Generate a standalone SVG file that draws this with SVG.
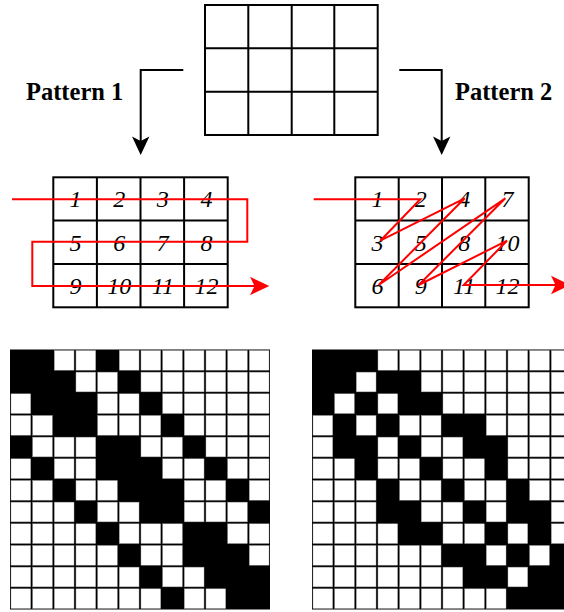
<svg xmlns="http://www.w3.org/2000/svg" xmlns:xlink="http://www.w3.org/1999/xlink" width="564" height="612" viewBox="0 0 564 612">
<style>
.grid{fill:none;stroke:#000;stroke-width:2}
.num{font-family:"Liberation Serif","Times New Roman",serif;font-style:italic;font-size:24px;fill:#000;text-anchor:middle}
.lbl{font-family:"Liberation Serif","Times New Roman",serif;font-weight:bold;font-size:24.5px;fill:#000}
.red{fill:none;stroke:#f00;stroke-width:2;stroke-linejoin:miter}
.redh{fill:#f00}
.blk{fill:none;stroke:#000;stroke-width:2}
.w{fill:#fff;stroke:#9a9a9a;stroke-width:0.02}
</style>
<defs>
<rect id="w" class="w" width="0.91" height="0.91"/>
</defs>
<rect width="564" height="612" fill="#fff"/>

<g id="source-grid">
<rect class="grid" x="205" y="5" width="172.7" height="130"/>
<path class="grid" d="M248.3 5V135M291.7 5V135M334.3 5V135M205 48.3H377.7M205 91.7H377.7"/>
</g>

<g id="label-1"><text class="lbl" x="26" y="99.5">Pattern 1</text></g>
<g id="label-2"><text class="lbl" x="455" y="99.5">Pattern 2</text></g>

<g id="pattern1-grid">
<rect class="grid" x="53.3" y="177.3" width="174.4" height="130"/>
<path class="grid" d="M96.9 177.3V307.3M140.5 177.3V307.3M184.1 177.3V307.3M53.3 220.6H227.7M53.3 264H227.7"/>
<text class="num" x="75.6" y="207">1</text>
<text class="num" x="119.2" y="207">2</text>
<text class="num" x="162.8" y="207">3</text>
<text class="num" x="206.4" y="207">4</text>
<text class="num" x="75.6" y="250.5">5</text>
<text class="num" x="119.2" y="250.5">6</text>
<text class="num" x="162.8" y="250.5">7</text>
<text class="num" x="206.4" y="250.5">8</text>
<text class="num" x="75.6" y="294">9</text>
<text class="num" x="119.2" y="294">10</text>
<text class="num" x="162.8" y="294">11</text>
<text class="num" x="206.4" y="294">12</text>
</g>

<g id="pattern2-grid">
<rect class="grid" x="355.3" y="177.3" width="173.4" height="130"/>
<path class="grid" d="M398.7 177.3V307.3M442 177.3V307.3M485.3 177.3V307.3M355.3 220.6H528.7M355.3 264H528.7"/>
<text class="num" x="377.5" y="207">1</text>
<text class="num" x="420.8" y="207">2</text>
<text class="num" x="464.2" y="207">4</text>
<text class="num" x="507.5" y="207">7</text>
<text class="num" x="377.5" y="250.5">3</text>
<text class="num" x="420.8" y="250.5">5</text>
<text class="num" x="464.2" y="250.5">8</text>
<text class="num" x="507.5" y="250.5">10</text>
<text class="num" x="377.5" y="294">6</text>
<text class="num" x="420.8" y="294">9</text>
<text class="num" x="464.2" y="294">11</text>
<text class="num" x="507.5" y="294">12</text>
</g>

<g id="connectors">
<path class="blk" d="M183.3 70H140.7V142"/>
<path d="M140.7 155L132 136.5L140.7 141L149.4 136.5Z" fill="#000"/>
<path class="blk" d="M399.3 70H441.7V142"/>
<path d="M441.7 155L433 136.5L441.7 141L450.4 136.5Z" fill="#000"/>
<path class="red" d="M12 199.3H247.3V241.7H32.3V286H255"/>
<path class="redh" d="M269.3 286L250 276.8L254.5 286L250 295.2Z"/>
<path class="red" d="M313.7 199.3L420.3 199.3L380.3 240.7L464.7 198.3L378.7 285L505.3 198.3L418.7 285L507 240.7L463.7 285H556"/>
<path class="redh" d="M570.3 285L551 275.8L555.5 285L551 294.2Z"/>
</g>

<g id="matrix-1" transform="translate(10 349.5) scale(21.6667)">
<rect width="12" height="12" fill="#000"/>
<g transform="translate(0.045 0.045)">
<use xlink:href="#w" x="2" y="0"/><use xlink:href="#w" x="3" y="0"/><use xlink:href="#w" x="5" y="0"/><use xlink:href="#w" x="6" y="0"/><use xlink:href="#w" x="7" y="0"/><use xlink:href="#w" x="8" y="0"/><use xlink:href="#w" x="9" y="0"/><use xlink:href="#w" x="10" y="0"/><use xlink:href="#w" x="11" y="0"/>
<use xlink:href="#w" x="3" y="1"/><use xlink:href="#w" x="4" y="1"/><use xlink:href="#w" x="6" y="1"/><use xlink:href="#w" x="7" y="1"/><use xlink:href="#w" x="8" y="1"/><use xlink:href="#w" x="9" y="1"/><use xlink:href="#w" x="10" y="1"/><use xlink:href="#w" x="11" y="1"/>
<use xlink:href="#w" x="0" y="2"/><use xlink:href="#w" x="4" y="2"/><use xlink:href="#w" x="5" y="2"/><use xlink:href="#w" x="7" y="2"/><use xlink:href="#w" x="8" y="2"/><use xlink:href="#w" x="9" y="2"/><use xlink:href="#w" x="10" y="2"/><use xlink:href="#w" x="11" y="2"/>
<use xlink:href="#w" x="0" y="3"/><use xlink:href="#w" x="1" y="3"/><use xlink:href="#w" x="4" y="3"/><use xlink:href="#w" x="5" y="3"/><use xlink:href="#w" x="6" y="3"/><use xlink:href="#w" x="8" y="3"/><use xlink:href="#w" x="9" y="3"/><use xlink:href="#w" x="10" y="3"/><use xlink:href="#w" x="11" y="3"/>
<use xlink:href="#w" x="1" y="4"/><use xlink:href="#w" x="2" y="4"/><use xlink:href="#w" x="3" y="4"/><use xlink:href="#w" x="6" y="4"/><use xlink:href="#w" x="7" y="4"/><use xlink:href="#w" x="9" y="4"/><use xlink:href="#w" x="10" y="4"/><use xlink:href="#w" x="11" y="4"/>
<use xlink:href="#w" x="0" y="5"/><use xlink:href="#w" x="2" y="5"/><use xlink:href="#w" x="3" y="5"/><use xlink:href="#w" x="7" y="5"/><use xlink:href="#w" x="8" y="5"/><use xlink:href="#w" x="10" y="5"/><use xlink:href="#w" x="11" y="5"/>
<use xlink:href="#w" x="0" y="6"/><use xlink:href="#w" x="1" y="6"/><use xlink:href="#w" x="3" y="6"/><use xlink:href="#w" x="4" y="6"/><use xlink:href="#w" x="8" y="6"/><use xlink:href="#w" x="9" y="6"/><use xlink:href="#w" x="11" y="6"/>
<use xlink:href="#w" x="0" y="7"/><use xlink:href="#w" x="1" y="7"/><use xlink:href="#w" x="2" y="7"/><use xlink:href="#w" x="4" y="7"/><use xlink:href="#w" x="5" y="7"/><use xlink:href="#w" x="8" y="7"/><use xlink:href="#w" x="9" y="7"/><use xlink:href="#w" x="10" y="7"/>
<use xlink:href="#w" x="0" y="8"/><use xlink:href="#w" x="1" y="8"/><use xlink:href="#w" x="2" y="8"/><use xlink:href="#w" x="3" y="8"/><use xlink:href="#w" x="5" y="8"/><use xlink:href="#w" x="6" y="8"/><use xlink:href="#w" x="7" y="8"/><use xlink:href="#w" x="10" y="8"/><use xlink:href="#w" x="11" y="8"/>
<use xlink:href="#w" x="0" y="9"/><use xlink:href="#w" x="1" y="9"/><use xlink:href="#w" x="2" y="9"/><use xlink:href="#w" x="3" y="9"/><use xlink:href="#w" x="4" y="9"/><use xlink:href="#w" x="6" y="9"/><use xlink:href="#w" x="7" y="9"/><use xlink:href="#w" x="11" y="9"/>
<use xlink:href="#w" x="0" y="10"/><use xlink:href="#w" x="1" y="10"/><use xlink:href="#w" x="2" y="10"/><use xlink:href="#w" x="3" y="10"/><use xlink:href="#w" x="4" y="10"/><use xlink:href="#w" x="5" y="10"/><use xlink:href="#w" x="7" y="10"/><use xlink:href="#w" x="8" y="10"/>
<use xlink:href="#w" x="0" y="11"/><use xlink:href="#w" x="1" y="11"/><use xlink:href="#w" x="2" y="11"/><use xlink:href="#w" x="3" y="11"/><use xlink:href="#w" x="4" y="11"/><use xlink:href="#w" x="5" y="11"/><use xlink:href="#w" x="6" y="11"/><use xlink:href="#w" x="8" y="11"/><use xlink:href="#w" x="9" y="11"/>
</g>
</g>

<g id="matrix-2" transform="translate(312 349.5) scale(21.6667)">
<rect width="12" height="12" fill="#000"/>
<g transform="translate(0.045 0.045)">
<use xlink:href="#w" x="3" y="0"/><use xlink:href="#w" x="4" y="0"/><use xlink:href="#w" x="5" y="0"/><use xlink:href="#w" x="6" y="0"/><use xlink:href="#w" x="7" y="0"/><use xlink:href="#w" x="8" y="0"/><use xlink:href="#w" x="9" y="0"/><use xlink:href="#w" x="10" y="0"/><use xlink:href="#w" x="11" y="0"/>
<use xlink:href="#w" x="2" y="1"/><use xlink:href="#w" x="5" y="1"/><use xlink:href="#w" x="6" y="1"/><use xlink:href="#w" x="7" y="1"/><use xlink:href="#w" x="8" y="1"/><use xlink:href="#w" x="9" y="1"/><use xlink:href="#w" x="10" y="1"/><use xlink:href="#w" x="11" y="1"/>
<use xlink:href="#w" x="1" y="2"/><use xlink:href="#w" x="3" y="2"/><use xlink:href="#w" x="6" y="2"/><use xlink:href="#w" x="7" y="2"/><use xlink:href="#w" x="8" y="2"/><use xlink:href="#w" x="9" y="2"/><use xlink:href="#w" x="10" y="2"/><use xlink:href="#w" x="11" y="2"/>
<use xlink:href="#w" x="0" y="3"/><use xlink:href="#w" x="2" y="3"/><use xlink:href="#w" x="4" y="3"/><use xlink:href="#w" x="5" y="3"/><use xlink:href="#w" x="8" y="3"/><use xlink:href="#w" x="9" y="3"/><use xlink:href="#w" x="10" y="3"/><use xlink:href="#w" x="11" y="3"/>
<use xlink:href="#w" x="0" y="4"/><use xlink:href="#w" x="3" y="4"/><use xlink:href="#w" x="5" y="4"/><use xlink:href="#w" x="6" y="4"/><use xlink:href="#w" x="9" y="4"/><use xlink:href="#w" x="10" y="4"/><use xlink:href="#w" x="11" y="4"/>
<use xlink:href="#w" x="0" y="5"/><use xlink:href="#w" x="1" y="5"/><use xlink:href="#w" x="3" y="5"/><use xlink:href="#w" x="4" y="5"/><use xlink:href="#w" x="6" y="5"/><use xlink:href="#w" x="7" y="5"/><use xlink:href="#w" x="9" y="5"/><use xlink:href="#w" x="10" y="5"/><use xlink:href="#w" x="11" y="5"/>
<use xlink:href="#w" x="0" y="6"/><use xlink:href="#w" x="1" y="6"/><use xlink:href="#w" x="2" y="6"/><use xlink:href="#w" x="4" y="6"/><use xlink:href="#w" x="5" y="6"/><use xlink:href="#w" x="7" y="6"/><use xlink:href="#w" x="8" y="6"/><use xlink:href="#w" x="10" y="6"/><use xlink:href="#w" x="11" y="6"/>
<use xlink:href="#w" x="0" y="7"/><use xlink:href="#w" x="1" y="7"/><use xlink:href="#w" x="2" y="7"/><use xlink:href="#w" x="5" y="7"/><use xlink:href="#w" x="6" y="7"/><use xlink:href="#w" x="8" y="7"/><use xlink:href="#w" x="11" y="7"/>
<use xlink:href="#w" x="0" y="8"/><use xlink:href="#w" x="1" y="8"/><use xlink:href="#w" x="2" y="8"/><use xlink:href="#w" x="3" y="8"/><use xlink:href="#w" x="6" y="8"/><use xlink:href="#w" x="7" y="8"/><use xlink:href="#w" x="9" y="8"/><use xlink:href="#w" x="11" y="8"/>
<use xlink:href="#w" x="0" y="9"/><use xlink:href="#w" x="1" y="9"/><use xlink:href="#w" x="2" y="9"/><use xlink:href="#w" x="3" y="9"/><use xlink:href="#w" x="4" y="9"/><use xlink:href="#w" x="5" y="9"/><use xlink:href="#w" x="8" y="9"/><use xlink:href="#w" x="10" y="9"/>
<use xlink:href="#w" x="0" y="10"/><use xlink:href="#w" x="1" y="10"/><use xlink:href="#w" x="2" y="10"/><use xlink:href="#w" x="3" y="10"/><use xlink:href="#w" x="4" y="10"/><use xlink:href="#w" x="5" y="10"/><use xlink:href="#w" x="6" y="10"/><use xlink:href="#w" x="9" y="10"/>
<use xlink:href="#w" x="0" y="11"/><use xlink:href="#w" x="1" y="11"/><use xlink:href="#w" x="2" y="11"/><use xlink:href="#w" x="3" y="11"/><use xlink:href="#w" x="4" y="11"/><use xlink:href="#w" x="5" y="11"/><use xlink:href="#w" x="6" y="11"/><use xlink:href="#w" x="7" y="11"/><use xlink:href="#w" x="8" y="11"/>
</g>
</g>
</svg>
